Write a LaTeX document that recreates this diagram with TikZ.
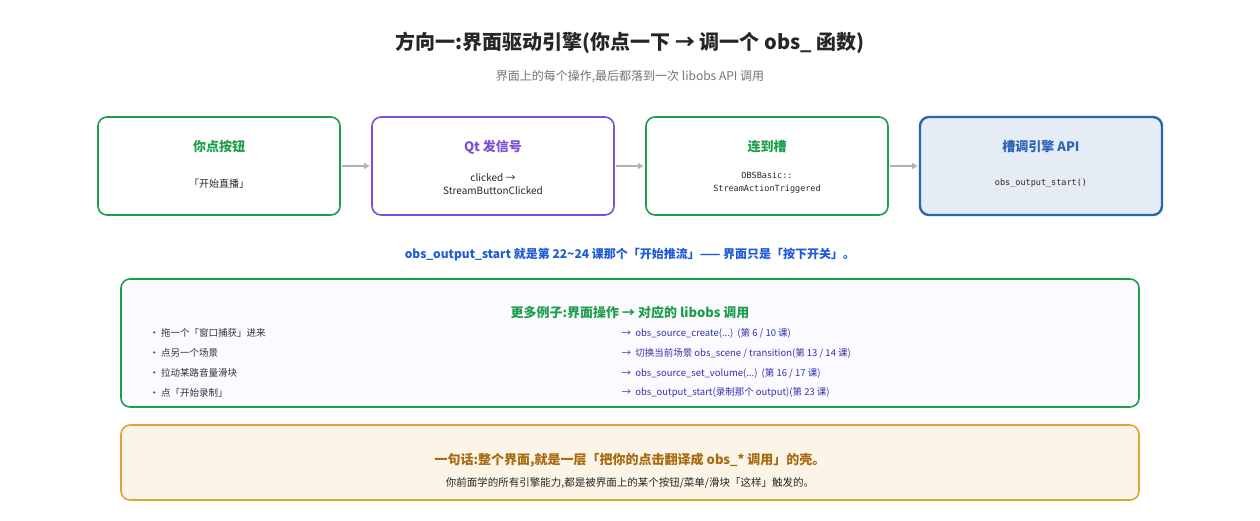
\documentclass[tikz,border=0pt]{standalone}
\usepackage{fontspec}
\setmainfont{Noto Sans CJK SC}
\newfontfamily\cjkb[FakeBold=0]{Noto Sans CJK SC Bold}
\setmonofont{DejaVu Sans Mono}
\begin{document}
\begin{tikzpicture}[x=1pt,y=-1pt,
 box/.style={draw, rounded corners=9pt, line width=1.6pt, fill=white},
 ttl/.style={font=\fontsize{13}{15}\selectfont\bfseries},
 sub/.style={font=\fontsize{10}{13}\selectfont, text=black!85, align=center},
 arr/.style={-{Latex[length=6pt,width=7pt]}, line width=2.5pt, draw=gray!60},
 lft/.style={anchor=west, font=\fontsize{9.5}{12}\selectfont, text=black!80},
 rgt/.style={anchor=west, font=\fontsize{9.5}{12}\selectfont, text=blue!60!black!80}]
\usetikzlibrary{arrows.meta}
\useasboundingbox (0,0) rectangle (1260,520);
\definecolor{gg}{HTML}{1E9E4A}\definecolor{pp}{HTML}{7B4FD6}\definecolor{bb}{HTML}{2B63B5}
\definecolor{bl}{HTML}{1F5BD6}\definecolor{og}{HTML}{E0A33A}\definecolor{ob}{HTML}{A86A10}
\node[font=\fontsize{20}{24}\selectfont\bfseries, text=black!85] (title) at (630,43) {方向一:界面驱动引擎(你点一下 → 调一个 obs\_ 函数)};
\node[font=\fontsize{12}{14}\selectfont, text=black!55] (stitle) at (630,77) {界面上的每个操作,最后都落到一次 libobs API 调用};
\draw[box,draw=gg] (98,117) rectangle (340,215) node[midway] (b1) {};
\draw[box,draw=pp] (372,117) rectangle (614,215) node[midway] (b2) {};
\draw[box,draw=gg] (646,117) rectangle (888,215) node[midway] (b3) {};
\draw[box,draw=bb,fill=bb!12,line width=2.4pt] (920,117) rectangle (1162,215) node[midway] (b4) {};
\node[ttl,text=gg] (t1) at (219,147) {你点按钮};
\node[sub] (s1) at (219,184) {「开始直播」};
\node[ttl,text=pp] (t2) at (493,147) {Qt 发信号};
\node[sub] (s2) at (493,184) {clicked →\\StreamButtonClicked};
\node[ttl,text=gg] (t3) at (767,147) {连到槽};
\node[sub,font=\ttfamily\fontsize{8.5}{13}\selectfont] (s3) at (767,183) {OBSBasic::\\StreamActionTriggered};
\node[ttl,text=bb] (t4) at (1041,147) {槽调引擎 API};
\node[sub,font=\ttfamily\fontsize{8.5}{13}\selectfont] (s4) at (1041,183) {obs\_output\_start()};
\coordinate (a1) at (342,166);\coordinate (a1e) at (370,166);
\coordinate (a2) at (616,166);\coordinate (a2e) at (644,166);
\coordinate (a3) at (890,166);\coordinate (a3e) at (918,166);
\draw[arr] (a1) -- (a1e);\draw[arr] (a2) -- (a2e);\draw[arr] (a3) -- (a3e);
\node[font=\fontsize{12}{14}\selectfont\bfseries, text=bl] (note) at (630,255) {obs\_output\_start 就是第 22\textasciitilde 24 课那个「开始推流」—— 界面只是「按下开关」。};
\draw[box,draw=gg,fill=blue!2] (121,279) rectangle (1139,407) node[midway] (ex) {};
\node[ttl,text=gg] (ext) at (630,313) {更多例子:界面操作 → 对应的 libobs 调用};
\foreach \y/\l/\r in {333/{· 拖一个「窗口捕获」进来}/{→\ \ obs\_source\_create(...)\ \ (第 6 / 10 课)},
 353/{· 点另一个场景}/{→\ \ 切换当前场景 obs\_scene / transition(第 13 / 14 课)},
 373/{· 拉动某路音量滑块}/{→\ \ obs\_source\_set\_volume(...)\ \ (第 16 / 17 课)},
 393/{· 点「开始录制」}/{→\ \ obs\_output\_start(录制那个 output)(第 23 课)}}{
 \node[lft] at (146,\y) {\l}; \node[rgt] at (618,\y) {\r};}
\draw[box,draw=og,fill=og!12] (121,425) rectangle (1139,500) node[midway] (sm) {};
\node[ttl,text=ob] (smt) at (630,460) {一句话:整个界面,就是一层「把你的点击翻译成 obs\_* 调用」的壳。};
\node[sub,font=\fontsize{10.5}{13}\selectfont] (sms) at (630,483) {你前面学的所有引擎能力,都是被界面上的某个按钮/菜单/滑块「这样」触发的。};
\end{tikzpicture}
\end{document}
